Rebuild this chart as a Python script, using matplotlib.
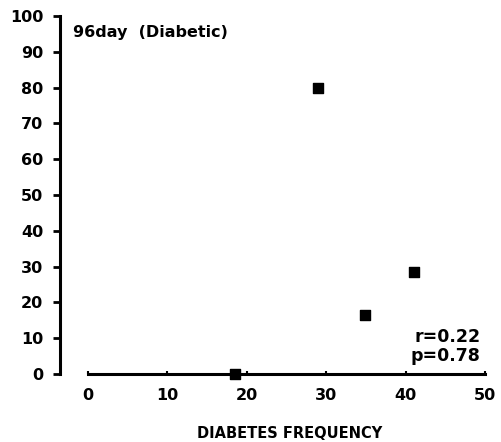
import matplotlib.pyplot as plt

# data
freq = [18.5, 29.0, 34.9, 41.0]
value = [0, 80, 16.5, 28.5]
xticks = [0, 10, 20, 30, 40, 50]
yticks = [0, 10, 20, 30, 40, 50, 60, 70, 80, 90, 100]

plt.rcParams['font.family'] = ['DejaVu Sans']
plt.rcParams['font.weight'] = 'bold'

fig = plt.figure(figsize=(5.02, 4.42), dpi=100)
ax = fig.add_axes([60/502, 68/442, 433/502, 358/442])

ax.scatter(freq, value, marker='s', s=60, color='black', edgecolor='black',
           linewidths=1.0, clip_on=False, zorder=3)

ax.set_xlim(-3.53, 51)
ax.set_ylim(0, 100)

ax.spines['top'].set_visible(False)
ax.spines['right'].set_visible(False)
ax.spines['left'].set_linewidth(2.2)
ax.spines['bottom'].set_linewidth(2.2)
ax.spines['bottom'].set_bounds(0, 50)

ax.set_xticks(xticks)
ax.set_yticks(yticks)
ax.tick_params(axis='y', direction='out', length=5, width=2, pad=7, labelsize=11.5)
ax.tick_params(axis='x', direction='in', length=2, width=1.5, pad=10, labelsize=11.5)
for lab in ax.get_xticklabels() + ax.get_yticklabels():
    lab.set_fontweight('bold')

ax.set_xlabel('DIABETES FREQUENCY', fontsize=10.5, fontweight='bold', va='center')
ax.xaxis.set_label_coords(230/433, -60/358)

ax.text(0.03, 0.955, '96day  (Diabetic)', transform=ax.transAxes, fontsize=11.5,
        fontweight='bold', va='center', ha='left')
ax.text(49.4, 10.3, 'r=0.22', fontsize=12.5, fontweight='bold', ha='right', va='center')
ax.text(49.4, 5.0, 'p=0.78', fontsize=12.5, fontweight='bold', ha='right', va='center')

fig.savefig('out.png', dpi=100)
